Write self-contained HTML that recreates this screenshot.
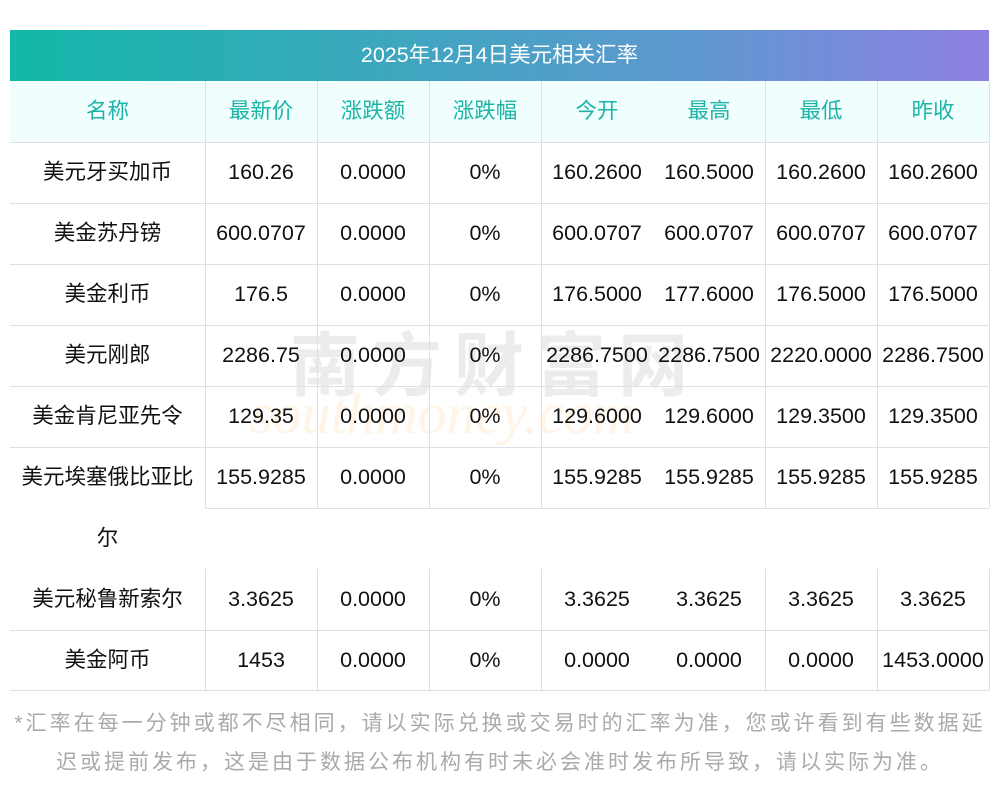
<!DOCTYPE html><html><head><meta charset="utf-8"><style>
body{margin:0;width:1000px;height:793px;background:#fff;position:relative;overflow:hidden;font-family:"Liberation Sans","Noto Sans CJK SC",sans-serif}
.a{position:absolute}
.t{position:absolute;text-align:center;font-size:21.5px;color:#111;line-height:61px;white-space:nowrap}
.h{color:#1db4a8}
.hl{position:absolute;height:1px;background:#dde0ea}
.vl{position:absolute;width:1px;background:#dde0ea}
</style></head><body>
<div class="a" style="left:10px;top:30px;width:979px;height:51px;background:linear-gradient(90deg,#13b8a8,#5f98d0 70%,#8d7fe2);color:#fff;font-size:21.5px;text-align:center;line-height:51px">2025年12月4日美元相关汇率</div>
<div class="a" style="left:10px;top:81px;width:979px;height:61px;background:#f0fefe"></div>
<div class="a" style="left:290px;top:310px;font-size:70px;color:rgba(200,200,200,0.35);font-weight:bold;letter-spacing:12px">南方财富网</div>
<div class="a" style="left:250px;top:380px;font-size:58px;color:rgba(255,210,150,0.25);font-style:italic;font-family:'Liberation Serif',serif">southmoney.com</div>
<div id="g"></div>
<div class="a" style="left:0;top:704px;width:1000px;font-size:21px;color:#aaa;line-height:39px;text-align:center;letter-spacing:3px;white-space:nowrap">*汇率在每一分钟或都不尽相同，请以实际兑换或交易时的汇率为准，您或许看到有些数据延<br>迟或提前发布，这是由于数据公布机构有时未必会准时发布所导致，请以实际为准。</div>
<script>
var xs=[10,205,317,429,541,653,765,877,989];
var H=['名称','最新价','涨跌额','涨跌幅','今开','最高','最低','昨收'];
var R=[['美元牙买加币','160.26','0.0000','0%','160.2600','160.5000','160.2600','160.2600'],
['美金苏丹镑','600.0707','0.0000','0%','600.0707','600.0707','600.0707','600.0707'],
['美金利币','176.5','0.0000','0%','176.5000','177.6000','176.5000','176.5000'],
['美元刚郎','2286.75','0.0000','0%','2286.7500','2286.7500','2220.0000','2286.7500'],
['美金肯尼亚先令','129.35','0.0000','0%','129.6000','129.6000','129.3500','129.3500'],
['美元埃塞俄比亚比','155.9285','0.0000','0%','155.9285','155.9285','155.9285','155.9285'],
['美元秘鲁新索尔','3.3625','0.0000','0%','3.3625','3.3625','3.3625','3.3625'],
['美金阿币','1453','0.0000','0%','0.0000','0.0000','0.0000','1453.0000']];
var tops=[142,203,264,325,386,447,569,630];
var s='';
function cell(c,y,txt,cls){s+='<div class="t '+(cls||'')+'" style="left:'+xs[c]+'px;top:'+y+'px;width:'+(xs[c+1]-xs[c])+'px">'+txt+'</div>';}
H.forEach(function(h,i){cell(i,81,h,'h')});
R.forEach(function(r,j){r.forEach(function(v,i){cell(i,tops[j],v)})});
cell(0,508,'尔');
[142,203,264,325,386,447,630,690].forEach(function(y){s+='<div class="hl" style="left:10px;top:'+y+'px;width:979px"></div>'});
s+='<div class="hl" style="left:205px;top:508px;width:784px"></div>';
[205,317,429,541,765,877,989].forEach(function(x){
 [[81,508],[569,690]].forEach(function(p){s+='<div class="vl" style="left:'+x+'px;top:'+p[0]+'px;height:'+(p[1]-p[0])+'px"></div>'});
});
document.getElementById('g').innerHTML=s;
</script>
</body></html>
